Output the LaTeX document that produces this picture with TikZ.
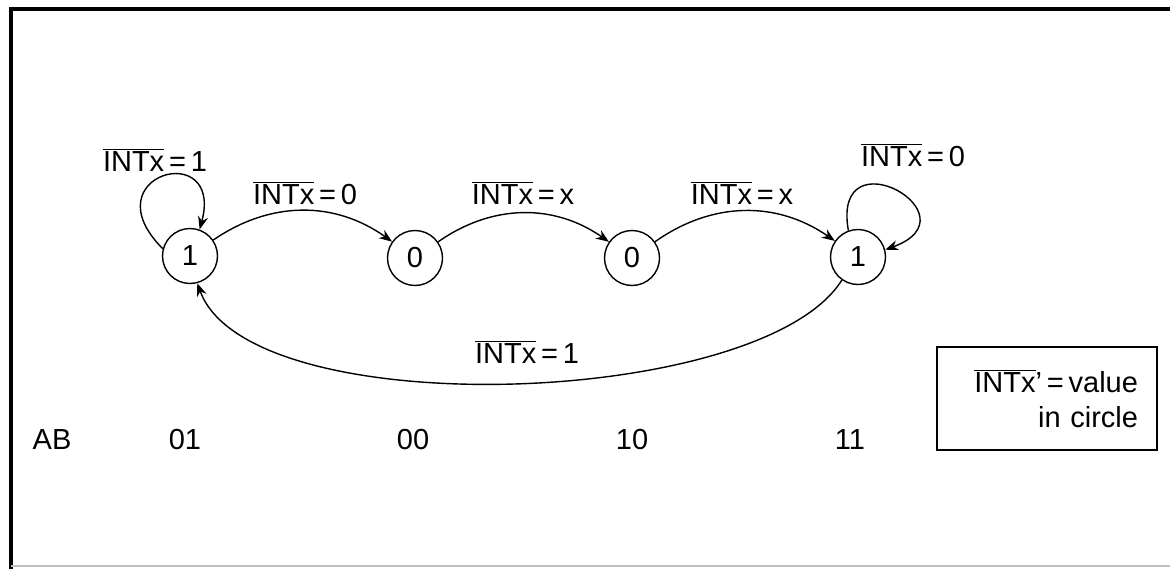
\documentclass[tikz,border=0pt]{standalone}
\usepackage{fontspec}
\setmainfont{Liberation Sans}
\usetikzlibrary{arrows.meta}

\newcommand{\intbar}{$\overline{\mbox{INTx}}$}

\begin{document}
\begin{tikzpicture}[x=0.5pt,y=0.5pt,font=\fontsize{14.5}{17.5}\selectfont,
    state/.style={draw,circle,minimum size=27.5pt,inner sep=0pt,line width=0.7pt},
    trans/.style={-{Stealth[length=6.5pt,width=5pt]},line width=0.7pt}]
\useasboundingbox (0,0) rectangle (1170,569);

% frame
\draw[line width=1.6pt] (11,0) -- (11,560) -- (1170,560);
\draw[black!25,line width=0.6pt] (11,3) -- (1170,3);

% states
\node[state] (s01) at (190,313) {1};
\node[state] (s00) at (415,311) {0};
\node[state] (s10) at (632,311) {0};
\node[state] (s11) at (858,312) {1};

% transitions
\draw[trans] (s01) to[bend left=35] (s00);
\draw[trans] (s00) to[bend left=35] (s10);
\draw[trans] (s10) to[bend left=35] (s11);
\draw[trans] (s11.235) to[out=238,in=-70,looseness=0.6] (s01.285);

% loops
\draw[trans] (s01.165) .. controls +(135:105) and +(75:95) .. (s01.70);
\draw[trans] (s11.110) .. controls +(100:100) and +(20:100) .. (s11.15);

% labels
\node (l1) at (155,409) {\intbar\,=\,1};
\node (l2) at (305,376) {\intbar\,=\,0};
\node (l3) at (523,376) {\intbar\,=\,x};
\node (l4) at (742,376) {\intbar\,=\,x};
\node (l5) at (913,414) {\intbar\,=\,0};
\node (l6) at (527,217) {\intbar\,=\,1};

% AB values
\node (ab) at (52,129) {AB};
\node (v01) at (185,129) {01};
\node (v00) at (413,129) {00};
\node (v10) at (632,129) {10};
\node (v11) at (850,129) {11};

% key
\node[draw,line width=0.7pt,minimum width=110pt,minimum height=51.5pt,
      inner xsep=9.5pt,text width=91pt,align=right] (key) at (1047,170.5)
  {\intbar'\,=\,value\\in circle};
\end{tikzpicture}
\end{document}
